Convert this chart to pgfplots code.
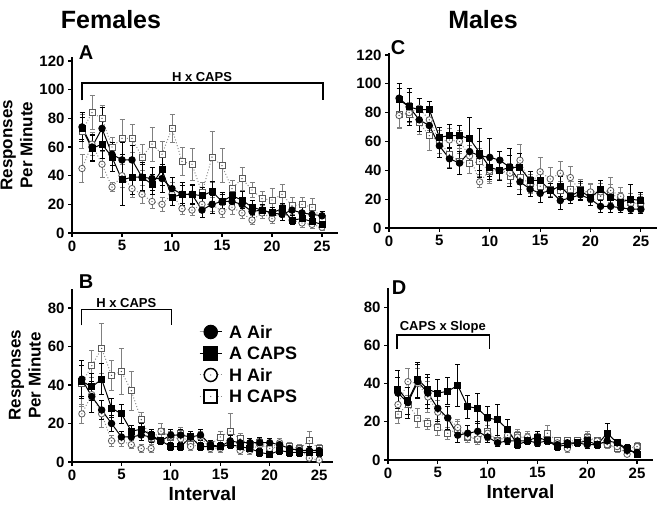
\documentclass[border=0pt]{standalone}
\usepackage{fontspec}
\setmainfont{Liberation Sans}
\usepackage{pgfplots}
\usepackage{pgfplotstable}
\pgfplotsset{compat=1.18}

% open marks with a small dot in the middle
\pgfdeclareplotmark{dotcircle}{%
  \pgfpathcircle{\pgfpointorigin}{\pgfplotmarksize}\pgfusepathqfillstroke
  \pgfscope\pgfsetfillcolor{black!70}\pgfpathcircle{\pgfpointorigin}{0.7pt}\pgfusepathqfill\endpgfscope}
\pgfdeclareplotmark{dotsquare}{%
  \pgfpathrectangle{\pgfpoint{-\pgfplotmarksize}{-\pgfplotmarksize}}{\pgfpoint{2\pgfplotmarksize}{2\pgfplotmarksize}}\pgfusepathqfillstroke
  \pgfscope\pgfsetfillcolor{black!70}\pgfpathcircle{\pgfpointorigin}{0.7pt}\pgfusepathqfill\endpgfscope}

% columns: interval, A Air, err, A CAPS, err, H Air, err, H CAPS, err
\pgfplotstableread{
x aa aae ac ace ha hae hc hce
1 74 10 73 8 45 10 71 12
2 60 9 59 9 62 8 84 12
3 73 15 62 10 48 9 80 9
4 55 8 53 10 32 3 60 7
5 51 12 37 18 40 8 66 13
6 51 10 39 12 31 6 66 10
7 39 10 39 9 27 6 53 9
8 38 8 34 7 22 5 62 12
9 38 10 44 11 20 5 55 9
10 31 8 25 6 27 8 73 10
11 27 6 27 8 17 4 50 10
12 27 7 27 6 16 4 48 11
13 16 5 26 6 20 5 28 7
14 20 6 29 7 20 5 53 18
15 22 5 22 6 15 4 47 12
16 22 5 26 6 18 5 31 6
17 20 5 23 6 14 4 38 8
18 15 4 18 5 9 3 30 5
19 16 4 16 4 14 4 24 5
20 14 4 14 4 10 3 23 8
21 13 4 17 4 15 4 27 7
22 16 4 9 3 9 3 19 6
23 14 4 10 3 7 3 20 5
24 13 4 8 3 6 3 18 6
25 12 3 6 3 4 2 10 5
}\dataA

\pgfplotstableread{
x aa aae ac ace ha hae hc hce
1 43 10 42 8 25 5 41 12
2 34 8 39 7 35 9 50 8
3 27 5 43 8 25 7 59 13
4 20 4 28 5 11 3 45 8
5 13 3 25 5 11 3 47 12
6 13 3 16 3 9 2 37 10
7 14 3 17 3 7 2 22 4
8 13 3 14 3 7 2 12 3
9 11 2 11 2 16 4 16 4
10 14 3 8 2 13 3 13 3
11 14 3 8 2 12 3 15 3
12 13 3 13 3 8 2 9 2
13 14 3 8 2 13 3 8 2
14 9 2 8 2 7 2 9 2
15 8 2 8 2 7 2 13 3
16 11 3 9 2 10 2 16 9
17 10 2 8 2 6 2 12 3
18 10 2 7 2 6 2 9 2
19 10 3 5 2 9 2 10 2
20 10 2 4 1 7 2 7 2
21 9 2 6 2 10 2 8 2
22 7 2 5 2 6 2 8 2
23 6 2 5 2 7 2 7 2
24 6 2 5 2 2 1 11 5
25 6 2 5 2 1 1 7 2
}\dataB

\pgfplotstableread{
x aa aae ac ace ha hae hc hce
1 90 10 89 8 78 9 79 9
2 84 13 84 10 80 7 79 6
3 75 8 82 8 83 7 73 8
4 71 9 82 6 75 7 64 10
5 57 8 63 7 60 8 60 8
6 48 7 64 8 61 8 51 9
7 45 8 64 7 60 8 46 9
8 53 8 62 15 50 7 45 7
9 50 10 52 17 32 4 46 9
10 49 13 42 8 40 8 39 8
11 47 6 40 7 40 6 40 7
12 42 8 42 13 38 7 36 7
13 32 9 42 10 47 11 35 8
14 27 5 33 6 30 6 31 6
15 24 6 33 7 39 10 29 6
16 26 5 26 5 34 8 27 5
17 19 6 29 7 38 8 26 6
18 21 4 22 5 35 8 27 5
19 23 4 26 6 25 6 27 7
20 20 4 21 5 25 6 24 6
21 15 4 27 6 25 6 22 6
22 15 4 21 6 26 9 24 6
23 14 3 18 5 22 6 20 5
24 13 3 20 10 17 5 18 6
25 13 3 19 6 17 5 17 6
}\dataC

\pgfplotstableread{
x aa aae ac ace ha hae hc hce
1 35 8 37 10 29 7 24 5
2 30 8 31 7 41 7 29 5
3 41 9 42 9 40 8 22 5
4 35 8 37 8 33 8 19 3
5 27 7 35 7 25 6 17 4
6 22 6 36 7 22 6 14 3
7 13 4 39 11 17 4 16 4
8 14 4 28 6 12 3 12 3
9 15 5 27 8 11 3 11 3
10 12 3 22 6 14 4 15 5
11 9 2 21 8 10 3 10 3
12 10 2 16 5 13 3 12 3
13 10 2 8 2 12 3 13 3
14 10 2 10 2 12 3 11 3
15 9 2 12 3 11 3 9 2
16 10 2 10 2 10 2 14 4
17 8 2 7 2 9 2 10 2
18 9 2 8 2 6 2 10 2
19 9 2 9 2 9 2 10 2
20 8 2 10 3 11 3 12 3
21 8 2 8 2 10 2 10 2
22 10 2 14 5 8 2 8 2
23 9 2 9 2 7 2 6 2
24 5 2 6 2 3 1 6 2
25 4 1 3 1 7 2 7 2
}\dataD

\pgfplotsset{
  errA/.style={/pgfplots/error bars/y dir=both, /pgfplots/error bars/y explicit,
    /pgfplots/error bars/error bar style={black, solid, line width=0.8pt},
    /pgfplots/error bars/error mark options={rotate=90, black, solid, mark size=2.5pt, line width=0.8pt}},
  errH/.style={/pgfplots/error bars/y dir=both, /pgfplots/error bars/y explicit,
    /pgfplots/error bars/error bar style={black!50, solid, line width=0.8pt},
    /pgfplots/error bars/error mark options={rotate=90, black!50, solid, mark size=2.5pt, line width=0.8pt}},
  aair/.style={black, line width=1pt, mark=*, mark size=3.2pt, mark options={solid}, errA},
  acaps/.style={black, line width=1pt, mark=square*, mark size=3pt, mark options={solid}, errA},
  hair/.style={black!45, dotted, line width=1pt, mark=dotcircle, mark size=3.2pt,
    mark options={solid, fill=white, draw=black!65, line width=0.8pt}, errH},
  hcaps/.style={black!45, dotted, line width=1pt, mark=dotsquare, mark size=3pt,
    mark options={solid, fill=white, draw=black!65, line width=0.8pt}, errH},
  panel/.style={
    scale only axis, clip=false,
    axis x line*=bottom, axis y line*=left,
    axis line style={line width=1.2pt},
    xmin=0, ymin=0, xtick={0,5,...,25},
    tick align=outside, major tick length=4pt,
    every tick/.style={black, line width=1.2pt},
    tick label style={font=\fontsize{15}{15}\selectfont\bfseries},
    /pgf/number format/assume math mode=true,
    xlabel style={font=\fontsize{19}{19}\selectfont\bfseries},
    ylabel style={align=center, font=\fontsize{17}{20}\selectfont\bfseries},
    legend image code/.code={\draw[mark repeat=2, mark phase=2, #1] plot coordinates {(0pt,0pt) (11pt,0pt) (22pt,0pt)};},
  },
}

\begin{document}
\begin{tikzpicture}
\useasboundingbox (0,0) rectangle (663pt,508pt);

\node[font=\fontsize{25}{25}\selectfont\bfseries] at (111pt,488pt) {Females};
\node[font=\fontsize{25}{25}\selectfont\bfseries] at (483pt,488pt) {Males};
\node[font=\fontsize{20}{20}\selectfont\bfseries] at (86pt,455pt) {A};
\node[font=\fontsize{20}{20}\selectfont\bfseries] at (398pt,460pt) {C};
\node[font=\fontsize{20}{20}\selectfont\bfseries] at (86pt,226pt) {B};
\node[font=\fontsize{20}{20}\selectfont\bfseries] at (399pt,220pt) {D};

% A: females, top
\begin{axis}[panel, at={(72pt,275pt)}, anchor=south west,
  width=266pt, height=175.5pt, xmax=26.6, ymax=122.5, ytick={0,20,...,120},
  ylabel={Responses\\Per Minute}]
\addplot[hcaps] table[x=x, y=hc, y error=hce] {\dataA};
\addplot[hair] table[x=x, y=ha, y error=hae] {\dataA};
\addplot[acaps] table[x=x, y=ac, y error=ace] {\dataA};
\addplot[aair] table[x=x, y=aa, y error=aae] {\dataA};
\draw[line width=1.2pt] (axis cs:1,92.5) |- (axis cs:25.1,104.7) -- (axis cs:25.1,92.5);
\node[font=\fontsize{13}{13}\selectfont\bfseries, anchor=south, inner sep=1.5pt] at (axis cs:13,104.7) {H x CAPS};
\end{axis}

% C: males, top
\begin{axis}[panel, at={(389pt,280pt)}, anchor=south west,
  width=268pt, height=174.5pt, xmax=26.6, ymax=121, ytick={0,20,...,120}]
\addplot[hcaps] table[x=x, y=hc, y error=hce] {\dataC};
\addplot[hair] table[x=x, y=ha, y error=hae] {\dataC};
\addplot[acaps] table[x=x, y=ac, y error=ace] {\dataC};
\addplot[aair] table[x=x, y=aa, y error=aae] {\dataC};
\end{axis}

% B: females, bottom
\begin{axis}[panel, at={(72pt,46pt)}, anchor=south west,
  width=261pt, height=173.3pt, xmax=26.4, ymax=90, ytick={0,20,...,80},
  ylabel={Responses\\Per Minute}, xlabel={Interval},
  reverse legend,
  legend image post style={mark size=6.5pt, /tikz/every mark/.append style={draw=black, line width=1.5pt}},
  legend style={draw=none, fill=none, inner sep=0pt, at={(axis cs:12.85,71)}, anchor=north west,
    font=\fontsize{18}{18}\selectfont\bfseries, row sep=8.5pt,
    nodes={inner sep=0pt, text height=13pt, text depth=0pt, black},
    /tikz/every odd column/.append style={column sep=7pt}},
  legend cell align=left]
\addplot[hcaps] table[x=x, y=hc, y error=hce] {\dataB};
\addlegendentry{H CAPS}
\addplot[hair] table[x=x, y=ha, y error=hae] {\dataB};
\addlegendentry{H Air}
\addplot[acaps] table[x=x, y=ac, y error=ace] {\dataB};
\addlegendentry{A CAPS}
\addplot[aair] table[x=x, y=aa, y error=aae] {\dataB};
\addlegendentry{A Air}
\draw[line width=1.2pt] (axis cs:1,71) |- (axis cs:10.1,79.3) -- (axis cs:10.1,71);
\node[font=\fontsize{13}{13}\selectfont\bfseries, anchor=south, inner sep=1.5pt] at (axis cs:5.5,79.3) {H x CAPS};
\end{axis}

% D: males, bottom
\begin{axis}[panel, at={(388pt,48pt)}, anchor=south west,
  width=265pt, height=172pt, xmax=26.6, ymax=90, ytick={0,20,...,80},
  xlabel={Interval}]
\addplot[hcaps] table[x=x, y=hc, y error=hce] {\dataD};
\addplot[hair] table[x=x, y=ha, y error=hae] {\dataD};
\addplot[acaps] table[x=x, y=ac, y error=ace] {\dataD};
\addplot[aair] table[x=x, y=aa, y error=aae] {\dataD};
\draw[line width=1.2pt] (axis cs:0.9,57.9) |- (axis cs:10.2,65.4) -- (axis cs:10.2,57.9);
\node[font=\fontsize{13}{13}\selectfont\bfseries, anchor=south, inner sep=1.5pt] at (axis cs:5.5,65.4) {CAPS x Slope};
\end{axis}
\end{tikzpicture}
\end{document}
